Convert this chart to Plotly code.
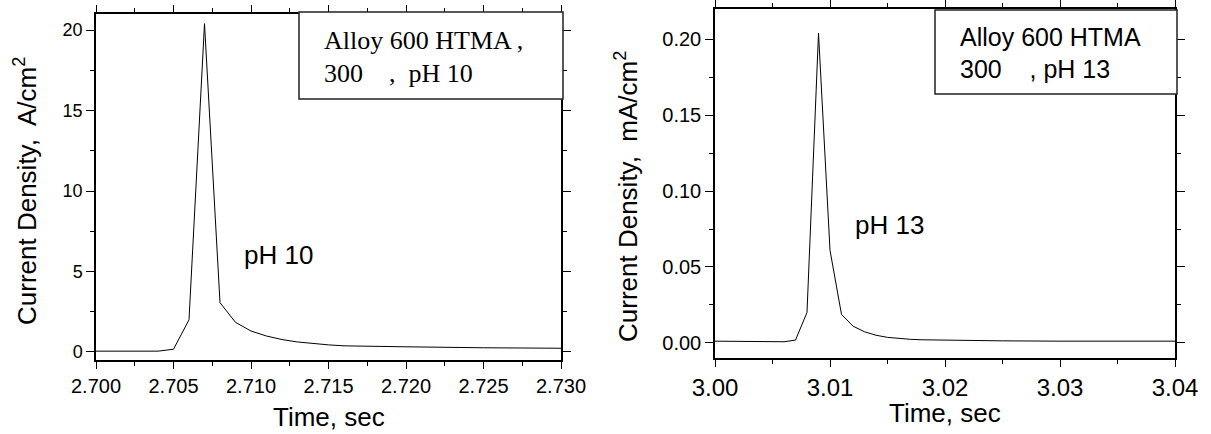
import plotly.graph_objects as go

# ---- data ----
t_ph10 = [2.700, 2.704, 2.705, 2.706, 2.707, 2.708, 2.709, 2.710, 2.711, 2.712,
          2.713, 2.714, 2.715, 2.716, 2.717, 2.720, 2.725, 2.730]
j_ph10 = [0.05, 0.05, 0.17, 2.0, 20.4, 3.06, 1.84, 1.30, 0.99, 0.77,
          0.62, 0.52, 0.44, 0.38, 0.36, 0.32, 0.26, 0.23]

t_ph13 = [3.000, 3.006, 3.007, 3.008, 3.009, 3.010, 3.011, 3.012, 3.013, 3.014,
          3.015, 3.016, 3.017, 3.018, 3.020, 3.025, 3.030, 3.040]
j_ph13 = [0.0011, 0.0007, 0.0018, 0.020, 0.204, 0.061, 0.0187, 0.011, 0.0073, 0.0050,
          0.0036, 0.0028, 0.0023, 0.0020, 0.0017, 0.0013, 0.0011, 0.0011]

W, H = 1211, 434
def px(x):
    return x / W
def py(y):
    return 1 - y / H

fig = go.Figure()
fig.add_trace(go.Scatter(x=t_ph10, y=j_ph10, mode="lines",
                         line=dict(color="black", width=1), xaxis="x", yaxis="y",
                         showlegend=False))
fig.add_trace(go.Scatter(x=t_ph13, y=j_ph13, mode="lines",
                         line=dict(color="black", width=1), xaxis="x2", yaxis="y2",
                         showlegend=False))

axis_common = dict(showline=True, linecolor="black", linewidth=1.5, mirror="allticks",
                   ticks="outside", ticklen=8, tickwidth=1, tickcolor="black",
                   showgrid=False, zeroline=False, automargin=False,
                   tickfont=dict(family="Liberation Sans, Arial", size=20, color="black"))

fig.update_layout(
    width=W, height=H, margin=dict(l=0, r=0, t=0, b=0, autoexpand=False),
    paper_bgcolor="white", plot_bgcolor="white",
    xaxis=dict(axis_common, domain=[px(96), px(561)], range=[2.700, 2.730], anchor="y",
               dtick=0.005, tick0=2.7, tickformat=".3f", ticklen=7,
               minor=dict(dtick=0.0025, ticklen=4, ticks="outside", tickcolor="black")),
    yaxis=dict(axis_common, domain=[py(360), py(14)], range=[-0.5, 21], anchor="x",
               dtick=5, tick0=0, tickformat="d",
               tickfont=dict(family="Liberation Sans, Arial", size=18, color="black"),
               minor=dict(dtick=2.5, ticklen=4, ticks="outside", tickcolor="black")),
    xaxis2=dict(axis_common, domain=[px(715), px(1175)], range=[3.00, 3.04], anchor="y2",
                dtick=0.01, tick0=3.0, tickformat=".2f", ticklen=7,
                tickfont=dict(family="Liberation Sans, Arial", size=24, color="black"),
                minor=dict(dtick=0.005, ticklen=4, ticks="outside", tickcolor="black")),
    yaxis2=dict(axis_common, domain=[py(358), py(9)], range=[-0.01, 0.22], anchor="x2",
                dtick=0.05, tick0=0, tickformat=".2f",
                minor=dict(dtick=0.025, ticklen=4, ticks="outside", tickcolor="black")),
)

sans = "Liberation Sans, Arial"
serif = "Liberation Serif, Times New Roman"
nb = "\u00a0"

# legend-like boxes
fig.add_shape(type="rect", xref="paper", yref="paper",
              x0=px(299), x1=px(563), y0=py(99), y1=py(12),
              line=dict(color="#222", width=1.5), fillcolor="white", layer="above")
fig.add_shape(type="rect", xref="paper", yref="paper",
              x0=px(935), x1=px(1177), y0=py(94), y1=py(10),
              line=dict(color="#222", width=1.5), fillcolor="white", layer="above")

annos = [
    # box texts
    dict(text="Alloy 600 HTMA ,", x=px(322), y=py(41), font=dict(family=serif, size=26)),
    dict(text="300" + nb * 4 + "," + nb * 2 + "pH 10", x=px(322), y=py(73),
         font=dict(family=serif, size=26)),
    dict(text="Alloy 600 HTMA", x=px(958), y=py(37), font=dict(family=sans, size=25)),
    dict(text="300" + nb * 4 + ", pH 13", x=px(958), y=py(69), font=dict(family=sans, size=25)),
    # in-plot labels
    dict(text="pH 10", x=px(242), y=py(255), font=dict(family=sans, size=26)),
    dict(text="pH 13", x=px(853), y=py(225), font=dict(family=sans, size=26)),
]
for a in annos:
    a["font"]["color"] = "black"
    fig.add_annotation(xref="paper", yref="paper", xanchor="left", yanchor="middle",
                       showarrow=False, **a)

# axis titles
fig.add_annotation(text="Time, sec", xref="paper", yref="paper", x=px(329), y=py(417),
                   xanchor="center", yanchor="middle", showarrow=False,
                   font=dict(family=sans, size=26, color="black"))
fig.add_annotation(text="Time, sec", xref="paper", yref="paper", x=px(945), y=py(413),
                   xanchor="center", yanchor="middle", showarrow=False,
                   font=dict(family=sans, size=26, color="black"))
fig.add_annotation(text="Current Density,  A/cm<sup>2</sup>", xref="paper", yref="paper",
                   x=px(26), y=py(191), xanchor="center", yanchor="middle", textangle=-90,
                   showarrow=False, font=dict(family=sans, size=26, color="black"))
fig.add_annotation(text="Current Density,  mA/cm<sup>2</sup>", xref="paper", yref="paper",
                   x=px(626), y=py(197), xanchor="center", yanchor="middle", textangle=-90,
                   showarrow=False, font=dict(family=sans, size=26, color="black"))

fig.write_html("out.html", config={"displayModeBar": False},
               post_script="document.body.style.margin='0';document.body.style.overflow='hidden';")
